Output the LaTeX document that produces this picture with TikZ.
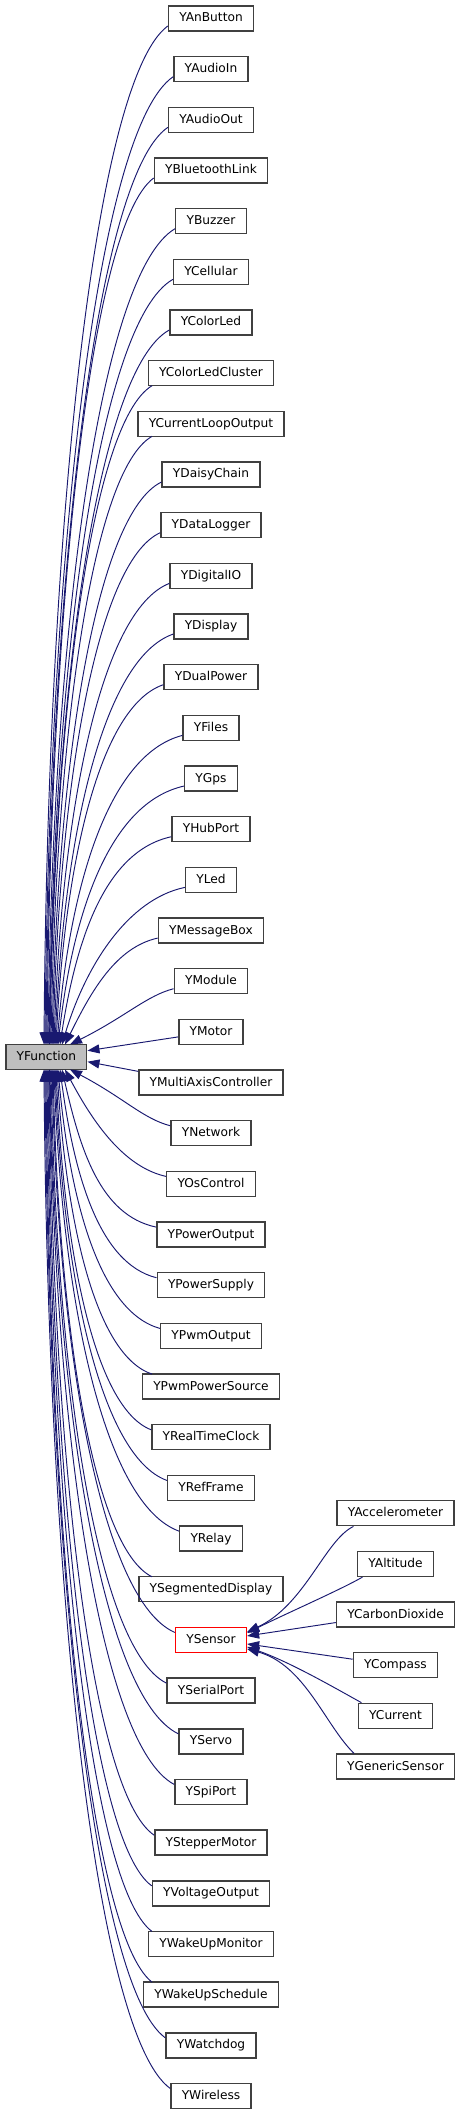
\documentclass[tikz,border=0pt]{standalone}
\usepackage{fontspec}
\setmainfont{DejaVu Sans}
\usetikzlibrary{arrows.meta,calc}
\definecolor{edgec}{HTML}{191970}
\definecolor{boxc}{HTML}{404040}
\definecolor{fgray}{HTML}{BFBFBF}
\begin{document}
\begin{tikzpicture}[x=1pt,y=-1pt,
  box/.style={draw=boxc, line width=1.4pt, fill=white, font=\fontsize{12.2}{14}\selectfont,
    inner xsep=10.8pt, inner ysep=0pt, minimum height=25pt, text height=9.5pt, text depth=2.6pt},
  edge/.style={draw=edgec, line width=0.95pt, -{Triangle[length=12pt,width=9pt]}}]
\useasboundingbox (0,0) rectangle (463,2115);
% parent
\node[box, fill=fgray] (fn) at (46.3,1057.2) {YFunction};
% children
\foreach \n [count=\i] in {YAnButton,YAudioIn,YAudioOut,YBluetoothLink,YBuzzer,YCellular,YColorLed,YColorLedCluster,YCurrentLoopOutput,YDaisyChain,YDataLogger,YDigitalIO,YDisplay,YDualPower,YFiles,YGps,YHubPort,YLed,YMessageBox,YModule,YMotor,YMultiAxisController,YNetwork,YOsControl,YPowerOutput,YPowerSupply,YPwmOutput,YPwmPowerSource,YRealTimeClock,YRefFrame,YRelay,YSegmentedDisplay,YSensor,YSerialPort,YServo,YSpiPort,YStepperMotor,YVoltageOutput,YWakeUpMonitor,YWakeUpSchedule,YWatchdog,YWireless} {
  \pgfmathsetmacro\yc{18.5+(\i-1)*50.67}
  \ifnum\i=33 \def\bc{red}\else\def\bc{boxc}\fi
  \node[box, draw=\bc] (c\i) at (211,\yc) {\n};
}
% sensor children
\foreach \n [count=\k] in {YAccelerometer,YAltitude,YCarbonDioxide,YCompass,YCurrent,YGenericSensor} {
  \pgfmathsetmacro\yc{1513.2+(\k-1)*50.67}
  \node[box] (s\k) at (395.5,\yc) {\n};
}
% edges to YFunction
\foreach \i/\ex in {1/44,2/45,3/46,4/47,5/48,6/49,7/49.5,8/50,9/51,10/52,11/53,12/54,13/55,14/56,15/57,16/58,17/60,18/62,19/65,20/70,
  23/70,24/65,25/62,26/60,27/58,28/57,29/56,30/55,31/54,32/53,33/52,34/51,35/50,36/49.5,37/49,38/48,39/47,40/46,41/45,42/44} {
  \path let \p1=(c\i.west) in \pgfextra{\xdef\xw{\x1}};
  \pgfmathsetmacro\yc{18.5+(\i-1)*50.67}
  \pgfmathsetmacro\up{\i<21 ? 1 : -1}
  \pgfmathsetmacro\ey{\up>0 ? 1044.5 : 1069.5}
  \pgfmathsetmacro\xs{\xw<150 ? 152 : \xw}
  \pgfmathsetmacro\ys{\xw<150 ? \yc+12.5*\up : \yc+7.5*\up}
  \pgfmathsetmacro\dx{\xs-\ex}
  \pgfmathsetmacro\D{abs(\ey-\ys)}
  \pgfmathsetmacro\ax{\xs-min(0.6*\dx,0.3*\D+10)}
  \pgfmathsetmacro\ay{\ys+(0.05*\D+4)*\up}
  \pgfmathsetmacro\kk{min(0.6,30/\D)}
  \pgfmathsetmacro\bx{\ex+\kk*\dx}
  \pgfmathsetmacro\by{\ey-0.5*\D*\up}
  \draw[edge] (\xs,\ys) .. controls (\ax,\ay) and (\bx,\by) .. (\ex,\ey);
}
\draw[edge] ([yshift=-5pt]c21.west) -- ([yshift=6.5pt]fn.east);
\draw[edge] ([yshift=-2pt]c22.north west) -- ([yshift=-4.5pt]fn.east);
% edges to YSensor
\draw[edge] ([xshift=-42pt]s1.south) .. controls (325,1540) and (305,1605) .. ([yshift=8pt]c33.east);
\draw[edge] ([xshift=-33pt]s2.south) .. controls (340,1590) and (285,1614) .. ([yshift=7pt]c33.east);
\draw[edge] ([yshift=-8pt]s3.west) -- ([yshift=4pt]c33.east);
\draw[edge] ([yshift=6pt]s4.west) -- ([yshift=-4pt]c33.east);
\draw[edge] ([xshift=-34pt]s5.north) .. controls (335,1688) and (290,1662) .. ([yshift=-7pt]c33.east);
\draw[edge] ([xshift=-41.5pt]s6.north) .. controls (325,1725) and (305,1665) .. ([yshift=-9pt]c33.east);
\end{tikzpicture}
\end{document}
